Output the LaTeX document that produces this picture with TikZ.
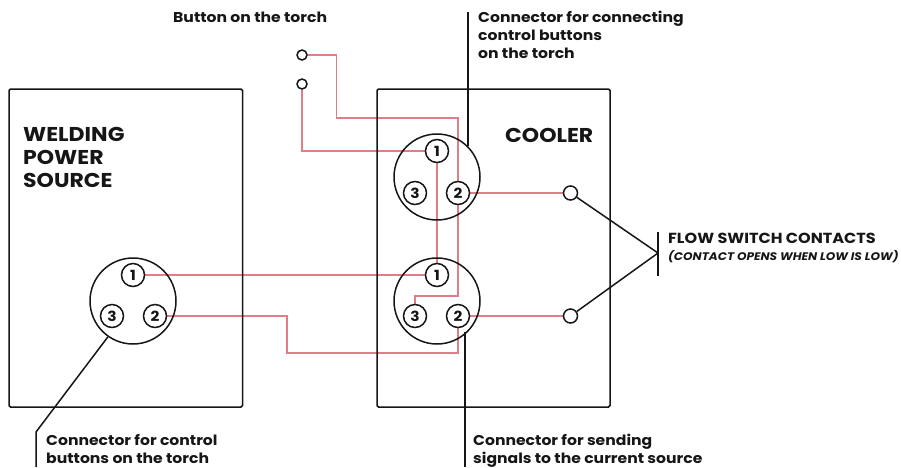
\documentclass[tikz,border=0pt]{standalone}
\usepackage{fontspec}
\setmainfont{Poppins}[FakeStretch=1.1]
\usetikzlibrary{backgrounds}
\definecolor{wirered}{HTML}{DE7F88}
\definecolor{inkblack}{HTML}{161616}
\tikzset{
  socket/.style={draw=inkblack,line width=1.5pt,circle,minimum size=86pt,inner sep=0pt},
  contact/.style={draw=inkblack,line width=1.5pt,circle,fill=white,minimum size=23pt,inner sep=0pt,text=inkblack,font=\fontsize{14}{14}\selectfont\bfseries},
  term/.style={draw=inkblack,line width=1.5pt,circle,fill=white,inner sep=0pt},
  panel/.style={draw=inkblack,line width=1.5pt,rounded corners=1.5pt},
  wire/.style={draw=wirered,line width=1.1pt},
  lead/.style={draw=inkblack,line width=1.5pt},
  lbl/.style={anchor=west,inner sep=0pt,text=inkblack,align=left,font=\fontsize{14.2}{18}\selectfont\bfseries},
  title/.style={anchor=west,inner sep=0pt,text=inkblack,align=left,font=\fontsize{20}{23}\selectfont\bfseries}
}
\begin{document}
\begin{tikzpicture}[x=1pt,y=-1pt]
  \useasboundingbox (0,0) rectangle (901,467);

  \draw [panel] (9,89) rectangle (242.5,407);
  \draw [panel] (377,89) rectangle (610,407);

  \node (sockL) [socket] at (133,301) {};
  \node (sockU) [socket] at (437,177) {};
  \node (sockD) [socket] at (437,301) {};

  \node (L1) [contact] at (133,275) {1};
  \node (L2) [contact] at (155,316) {2};
  \node (L3) [contact] at (112,316) {3};
  \node (U1) [contact] at (437,151) {1};
  \node (U2) [contact] at (458,193) {2};
  \node (U3) [contact] at (415,193) {3};
  \node (D1) [contact] at (437,275) {1};
  \node (D2) [contact] at (458,316) {2};
  \node (D3) [contact] at (415,316) {3};

  \node (btnA) [term,minimum size=10pt] at (302,55) {};
  \node (btnB) [term,minimum size=10pt] at (302,84) {};
  \node (flowA) [term,minimum size=14pt] at (570.5,193) {};
  \node (flowB) [term,minimum size=14pt] at (570.5,316) {};

  \coordinate (bend1) at (336.5,118);
  \coordinate (bend2) at (458,296);
  \coordinate (bend3) at (287,353);
  \coordinate (tip) at (658,253);
  \coordinate (barT) at (658,232);
  \coordinate (barB) at (658,276);
  \coordinate (topEnd) at (468,12);
  \coordinate (downEnd) at (465,467);
  \coordinate (knee) at (36,432);
  \coordinate (leftEnd) at (36,467);

  \begin{scope}[on background layer]
    \draw [wire] (btnA) -| (bend1) -| (bend2) -| (D3);
    \draw [wire] (btnB) |- (U1);
    \draw [wire] (U1) to (D1);
    \draw [wire] (L1) to (D1);
    \draw [wire] (L2) -| (bend3) -| (D2);
    \draw [wire] (U2) to (flowA);
    \draw [wire] (D2) to (flowB);
  \end{scope}

  \draw [lead] (flowA) to (tip);
  \draw [lead] (flowB) to (tip);
  \draw [lead] (barT) to (barB);
  \draw [lead] (topEnd) to (topEnd |- sockU.north east);
  \draw [lead] (downEnd |- sockD.south east) to (downEnd);
  \draw [lead] (sockL.235) to (knee) to (leftEnd);

  \node (btnLbl) [lbl] at (173,17) {Button on the torch};
  \node (topLbl) [lbl,anchor=north west] at (478,11) {Connector for connecting\\control buttons\\on the torch};
  \node (leftLbl) [lbl,anchor=north west] at (46,434) {Connector for control\\buttons on the torch};
  \node (downLbl) [lbl,anchor=north west] at (473,434) {Connector for sending\\signals to the current source};
  \node (wpsLbl) [title,anchor=north west] at (23,127) {WELDING\\POWER\\SOURCE};
  \node (coolLbl) [title] at (505,135) {COOLER};
  \node (flowLbl) [lbl,font=\fontsize{14.6}{18}\selectfont\bfseries] at (668,238) {FLOW SWITCH CONTACTS};
  \node (noteLbl) [lbl,font=\fontsize{11}{12}\selectfont\bfseries\itshape] at (668,257) {(CONTACT OPENS WHEN LOW IS LOW)};
\end{tikzpicture}
\end{document}
